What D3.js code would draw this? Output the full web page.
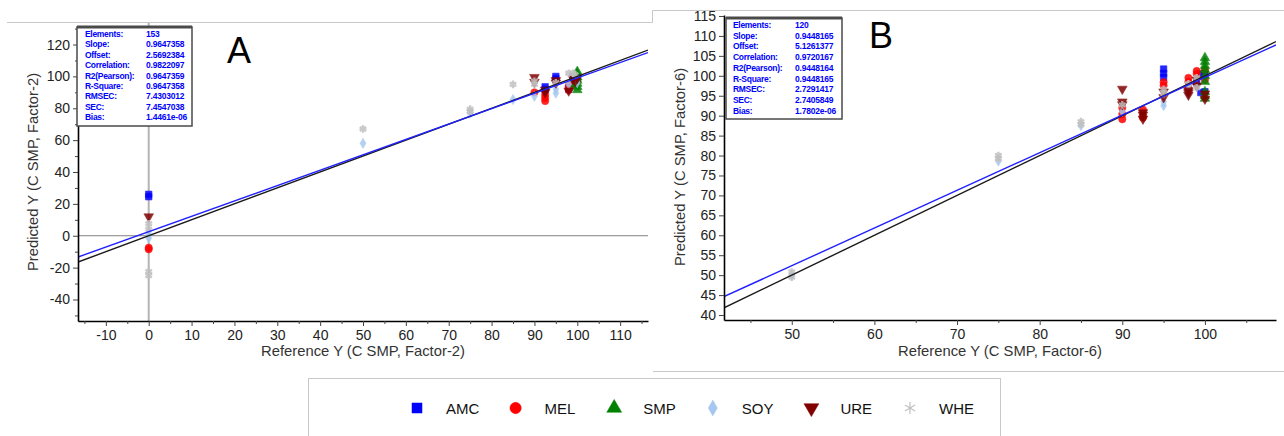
<!DOCTYPE html>
<html>
<head>
<meta charset="utf-8">
<script src="https://cdn.jsdelivr.net/npm/d3@7"></script>
<style>
  html, body { margin: 0; padding: 0; background: #fff; }
  svg { display: block; font-family: "Liberation Sans", Arial, sans-serif; }
</style>
</head>
<body>
<svg id="chart" width="1284" height="436"></svg>
<script>
// ---- series ----
const seriesNames = ["AMC", "MEL", "SMP", "SOY", "URE", "WHE"];

// ---- panel A: [reference, predicted] (Factor-2) ----
const amcA = [[0, 24.5], [0, 26], [92.5, 92], [92.5, 93.5], [95, 100], [95, 98.5], [98, 93], [98, 92], [99.5, 96.5], [100, 98], [99, 100]];
const melA = [[0, -7.5], [0, -8.5], [90, 90], [92.5, 84.5], [92.5, 86.5], [92.5, 88.5], [98, 91.5], [99, 95], [100, 97], [99.5, 100], [98, 94]];
const smpA = [[100, 91.5], [100, 93.5], [100, 95.5], [100, 97.5], [100, 99.5], [100, 101.5], [100, 103], [99.5, 98.5], [99.5, 95]];
const soyA = [[0, -1.5], [0, 1], [50, 58], [75, 77], [85, 85.5], [90, 87.5], [95, 89.5], [95, 92], [98, 95], [100, 96]];
const ureA = [[0, 12], [90, 99.5], [90, 96.5], [92.5, 90], [92.5, 91.5], [95, 96], [95, 97.5], [98, 91], [99, 98.5], [99.5, 97], [100, 99]];
const wheA = [[0, 7.5], [0, 4], [0, -22.5], [0, -25], [50, 67], [75, 78], [75, 79.5], [85, 95], [90, 95], [90, 97], [98, 102], [99, 102], [99.5, 101], [95, 96]];

// ---- panel B: [reference, predicted] (Factor-6) ----
const amcB = [[95, 101.7], [95, 100.6], [95, 99.6], [99.5, 100.5], [99.5, 95.8], [99, 98.5], [100, 100.5], [100, 96]];
const melB = [[90, 92], [90, 90.4], [90, 89.1], [92.5, 91.5], [92.5, 90], [92.5, 89.5], [95, 98.4], [95, 97.5], [98, 99.5], [98, 98.5], [98, 97], [99, 101.2], [99, 100.5], [100, 101.5], [100, 99]];
const smpB = [[100, 104.5], [100, 103.5], [100, 102.5], [100, 101.5], [100, 100], [100, 98.5], [100, 96], [100, 95], [100, 94.3]];
const soyB = [[50, 50], [75, 78.6], [85, 87.5], [90, 91], [95, 92.5], [95, 93.5], [98, 97.5], [98, 96.5], [99, 97.5]];
const ureB = [[90, 96.7], [90, 93.5], [90, 92.8], [92.5, 90.8], [92.5, 89.2], [92.5, 90.2], [95, 94.6], [95, 96], [98, 95.8], [98, 96.3], [98, 95.2], [99, 99], [99, 97.5], [100, 94.2], [100, 95.5]];
const wheB = [[50, 50.8], [50, 49.5], [75, 80], [75, 79.2], [85, 88.5], [85, 87.8], [90, 92.7], [95, 96.6], [95, 95.5], [98, 98], [99, 99.5], [99, 97]];

// ---- statistics boxes ----
const statLabels = ["Elements:", "Slope:", "Offset:", "Correlation:", "R2(Pearson):", "R-Square:", "RMSEC:", "SEC:", "Bias:"];
const statsA = ["153", "0.9647358", "2.5692384", "0.9822097", "0.9647359", "0.9647358", "7.4303012", "7.4547038", "1.4461e-06"];
const statsB = ["120", "0.9448165", "5.1261377", "0.9720167", "0.9448164", "0.9448165", "2.7291417", "2.7405849", "1.7802e-06"];

// ---- axis ticks ----
const xTicksA = [-10, 0, 10, 20, 30, 40, 50, 60, 70, 80, 90, 100, 110];
const xMinorA = [-15, -5, 5, 15, 25, 35, 45, 55, 65, 75, 85, 95, 105, 115];
const yTicksA = [-40, -20, 0, 20, 40, 60, 80, 100, 120];
const yMinorA = [-50, -30, -10, 10, 30, 50, 70, 90, 110, 130];
const xTicksB = [50, 60, 70, 80, 90, 100];
const xMinorB = [45, 55, 65, 75, 85, 95, 105];
const yTicksB = [40, 45, 50, 55, 60, 65, 70, 75, 80, 85, 90, 95, 100, 105, 110, 115];

// ---- marker styles ----
const asterisk = {
  draw(ctx, size) {
    const r = Math.sqrt(size) * 0.6;
    for (let k = 0; k < 3; k++) {
      const a = Math.PI / 2 + k * Math.PI / 3;
      ctx.moveTo(r * Math.cos(a), r * Math.sin(a));
      ctx.lineTo(-r * Math.cos(a), -r * Math.sin(a));
    }
  }
};
const downTriangle = {
  draw(ctx, size) {
    const s = Math.sqrt(size * 4 / Math.sqrt(3));
    const h = s * Math.sqrt(3) / 2;
    ctx.moveTo(-s / 2, -h / 3);
    ctx.lineTo(s / 2, -h / 3);
    ctx.lineTo(0, 2 * h / 3);
    ctx.closePath();
  }
};
const styles = {
  AMC: { type: d3.symbolSquare, color: "#0000ff", size: 42 },
  MEL: { type: d3.symbolCircle, color: "#ff0000", size: 42 },
  SMP: { type: d3.symbolTriangle, color: "#008000", size: 40 },
  SOY: { type: d3.symbolDiamond, color: "#a6c8f0", size: 30 },
  URE: { type: downTriangle, color: "#800000", size: 40 },
  WHE: { type: asterisk, color: "#c0c0c0", size: 40, stroke: true }
};

const plainNumber = d => String(d);
const svg = d3.select("#chart");

// panel frames
svg.append("path").attr("d", "M7,22.5H652.5V10.5H1284")
  .attr("fill", "none").attr("stroke", "#c8c8c8").attr("stroke-width", 1);
svg.append("path").attr("d", "M653,371.5H1284")
  .attr("fill", "none").attr("stroke", "#c8c8c8").attr("stroke-width", 1);

function drawPanel(cfg) {
  const g = svg.append("g");
  const x = d3.scaleLinear().domain(cfg.xDomain).range([cfg.left, cfg.right]);
  const y = d3.scaleLinear().domain(cfg.yDomain).range([cfg.bottom, cfg.top]);

  const clipId = "clip" + cfg.name;
  svg.append("clipPath").attr("id", clipId).append("rect")
    .attr("x", cfg.left).attr("y", cfg.top)
    .attr("width", cfg.right - cfg.left).attr("height", cfg.bottom - cfg.top);

  // zero reference lines
  if (cfg.zeroLines) {
    g.append("line").attr("x1", x(0)).attr("x2", x(0)).attr("y1", cfg.top - 4).attr("y2", cfg.bottom)
      .attr("stroke", "#b4b4b4").attr("stroke-width", 2);
    g.append("line").attr("x1", cfg.left).attr("x2", cfg.right).attr("y1", y(0)).attr("y2", y(0))
      .attr("stroke", "#808080").attr("stroke-width", 1);
  }

  // data points
  const pts = g.append("g").attr("clip-path", `url(#${clipId})`);
  seriesNames.forEach((name, i) => {
    const st = styles[name];
    const sym = d3.symbol().type(st.type).size(st.size);
    pts.selectAll(null).data(cfg.series[i]).join("path")
      .attr("transform", d => `translate(${x(d[0])},${y(d[1])})`)
      .attr("d", sym)
      .attr("fill", st.stroke ? "none" : st.color)
      .attr("stroke", st.color)
      .attr("stroke-width", st.stroke ? 2.4 : 0.6)
      .attr("opacity", 0.85);
  });

  // target (y = x) and regression lines
  const lines = g.append("g").attr("clip-path", `url(#${clipId})`);
  const [x0, x1] = cfg.xDomain;
  lines.append("line")
    .attr("x1", x(x0)).attr("y1", y(x0)).attr("x2", x(x1)).attr("y2", y(x1))
    .attr("stroke", "#1a1a1a").attr("stroke-width", 1.4);
  const slope = +cfg.stats[1], offset = +cfg.stats[2];
  lines.append("line")
    .attr("x1", x(x0)).attr("y1", y(slope * x0 + offset))
    .attr("x2", x(x1)).attr("y2", y(slope * x1 + offset))
    .attr("stroke", "#2020ff").attr("stroke-width", 1.4);

  // axes
  const xAxis = g.append("g").attr("transform", `translate(0,${cfg.bottom})`)
    .call(d3.axisBottom(x).tickValues(cfg.xTicks).tickFormat(plainNumber)
      .tickSizeInner(5).tickSizeOuter(0).tickPadding(4));
  const xMinor = g.append("g").attr("transform", `translate(0,${cfg.bottom})`)
    .call(d3.axisBottom(x).tickValues(cfg.xMinor.filter(v => v >= x0 && v <= x1)).tickSize(3).tickFormat(""));
  xMinor.select(".domain").remove();
  const yAxis = g.append("g").attr("transform", `translate(${cfg.left},0)`)
    .call(d3.axisLeft(y).tickValues(cfg.yTicks).tickFormat(plainNumber)
      .tickSizeInner(5).tickSizeOuter(0).tickPadding(3));
  if (cfg.yMinor) {
    const yMinor = g.append("g").attr("transform", `translate(${cfg.left},0)`)
      .call(d3.axisLeft(y).tickValues(cfg.yMinor.filter(v => v >= cfg.yDomain[0] && v <= cfg.yDomain[1])).tickSize(3).tickFormat(""));
    yMinor.select(".domain").remove();
  }
  [xAxis, yAxis].forEach(a => {
    a.select(".domain").attr("stroke", "#000").attr("stroke-width", 1.6);
    a.selectAll(".tick text").attr("font-size", 14).attr("fill", "#222")
      .attr("font-family", "Liberation Sans, Arial, sans-serif");
  });
  g.selectAll(".tick line").attr("stroke", "#444");

  // axis titles
  g.append("text").attr("x", cfg.xTitlePos[0]).attr("y", cfg.xTitlePos[1])
    .attr("text-anchor", "middle").attr("font-size", 14.8).attr("fill", "#333")
    .text(cfg.xTitle);
  g.append("text")
    .attr("transform", `translate(${cfg.yTitlePos[0]},${cfg.yTitlePos[1]}) rotate(-90)`)
    .attr("text-anchor", "middle").attr("font-size", 14.8).attr("fill", "#333")
    .text(cfg.yTitle);

  // statistics box
  const b = cfg.box;
  const box = g.append("g");
  box.append("rect").attr("x", b.x).attr("y", b.y).attr("width", b.w).attr("height", b.h)
    .attr("fill", "#fff").attr("stroke", "#4a4a4a").attr("stroke-width", 1.5);
  box.append("line").attr("x1", b.x).attr("x2", b.x + b.w).attr("y1", b.y).attr("y2", b.y)
    .attr("stroke", "#4a4a4a").attr("stroke-width", 3);
  statLabels.forEach((lab, i) => {
    const ty = b.y + b.row0 + i * b.dy;
    box.append("text").attr("x", b.lx).attr("y", ty).attr("font-size", 8.5).attr("font-weight", "bold")
      .attr("fill", "#0000ff").attr("letter-spacing", -0.3).text(lab);
    box.append("text").attr("x", b.vx).attr("y", ty).attr("font-size", 8.5).attr("font-weight", "bold")
      .attr("fill", "#0000ff").attr("letter-spacing", -0.2).text(cfg.stats[i]);
  });

  // panel letter
  g.append("text").attr("x", cfg.letterPos[0]).attr("y", cfg.letterPos[1])
    .attr("font-size", 36).attr("fill", "#000").text(cfg.name);
}

drawPanel({
  name: "A",
  left: 78, right: 648, top: 27, bottom: 321,
  xDomain: [-16.5, 116.5], yDomain: [-53.5, 131],
  xTicks: xTicksA, xMinor: xMinorA, yTicks: yTicksA, yMinor: yMinorA,
  series: [amcA, melA, smpA, soyA, ureA, wheA],
  stats: statsA, zeroLines: true,
  xTitle: "Reference Y (C SMP, Factor-2)", xTitlePos: [363, 356],
  yTitle: "Predicted Y (C SMP, Factor-2)", yTitlePos: [38, 172],
  box: { x: 77, y: 27, w: 115, h: 99, lx: 85, vx: 146, row0: 10, dy: 10.4 },
  letterPos: [227, 63]
});

drawPanel({
  name: "B",
  left: 724, right: 1276, top: 15, bottom: 320,
  xDomain: [41.8, 108.6], yDomain: [38.75, 115.25],
  xTicks: xTicksB, xMinor: xMinorB, yTicks: yTicksB, yMinor: null,
  series: [amcB, melB, smpB, soyB, ureB, wheB],
  stats: statsB, zeroLines: false,
  xTitle: "Reference Y (C SMP, Factor-6)", xTitlePos: [1000, 356],
  yTitle: "Predicted Y (C SMP, Factor-6)", yTitlePos: [685, 167],
  box: { x: 726, y: 18, w: 116, h: 101, lx: 733, vx: 795, row0: 10, dy: 10.7 },
  letterPos: [869, 48]
});

// legend
const legend = svg.append("g");
legend.append("rect").attr("x", 308.5).attr("y", 378.5).attr("width", 692).attr("height", 70)
  .attr("fill", "#fff").attr("stroke", "#c8c8c8");
const legendX = d3.scalePoint().domain(seriesNames).range([417, 910]);
seriesNames.forEach(name => {
  const st = styles[name];
  const cx = legendX(name), cy = 408;
  legend.append("path")
    .attr("transform", `translate(${cx},${cy})`)
    .attr("d", d3.symbol().type(st.type).size(st.size * 2.4)())
    .attr("fill", st.stroke ? "none" : st.color)
    .attr("stroke", st.color).attr("stroke-width", st.stroke ? 1.2 : 0.5);
  legend.append("text").attr("x", cx + 29).attr("y", cy + 5.5)
    .attr("font-size", 15).attr("fill", "#111").text(name);
});
</script>
</body>
</html>
